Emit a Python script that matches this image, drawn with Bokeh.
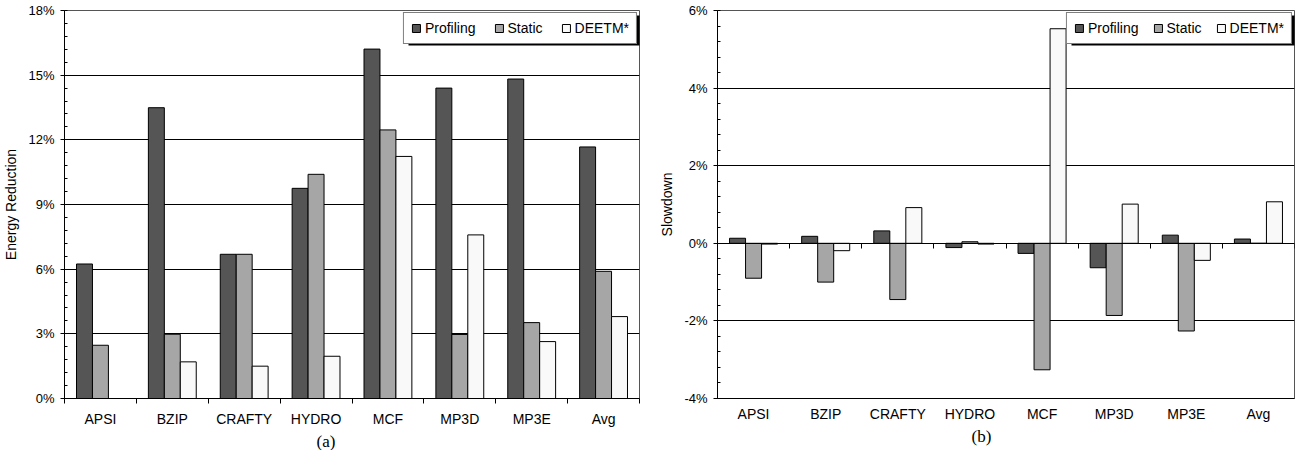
from bokeh.plotting import figure
from bokeh.layouts import row
from bokeh.models import (FixedTicker, PrintfTickFormatter, LinearAxis, Legend, LegendItem,
                          Title, Range1d, CustomJSTickFormatter, BoxAnnotation)
from bokeh.embed import file_html
from bokeh.resources import INLINE

categories = ["APSI", "BZIP", "CRAFTY", "HYDRO", "MCF", "MP3D", "MP3E", "Avg"]
series = ["Profiling", "Static", "DEETM*"]
colors = ["#555555", "#a6a6a6", "#f9f9f9"]

energy_profiling = [6.24, 13.49, 6.69, 9.75, 16.21, 14.40, 14.82, 11.67]
energy_static = [2.47, 2.98, 6.69, 10.40, 12.46, 2.97, 3.52, 5.90]
energy_deetm = [0.0, 1.70, 1.50, 1.96, 11.23, 7.59, 2.64, 3.80]

slow_profiling = [0.13, 0.18, 0.32, -0.11, -0.26, -0.63, 0.21, 0.11]
slow_static = [-0.90, -1.00, -1.45, 0.04, -3.26, -1.86, -2.26, 0.0]
slow_deetm = [-0.02, -0.19, 0.92, -0.02, 5.53, 1.01, -0.44, 1.07]

energy_ticks = [0, 3, 6, 9, 12, 15, 18]
energy_minor = [round(0.6 * k, 2) for k in range(31)]
slow_ticks = [-4, -2, 0, 2, 4, 6]
slow_minor = [round(-4 + 0.4 * k, 2) for k in range(26)]

FONT = "Liberation Sans"
BAR_W = 0.222
FH = 388
n = len(categories)
centers = [i + 0.5 for i in range(n)]
bounds = list(range(n + 1))


def make(values, ticks, minor, ylo, yhi, ylabel, bl, br, fw, spacing, leg_w, sub, sub_off,
         zero_ticks):
    p = figure(frame_width=fw, frame_height=FH, min_border_left=bl, min_border_right=br,
               min_border_top=10, min_border_bottom=50, x_range=Range1d(0, n),
               y_range=Range1d(ylo, yhi), output_backend="svg", toolbar_location=None,
               background_fill_color="white", border_fill_color="white")
    p.outline_line_color = "#555555"
    p.xgrid.visible = False
    p.ygrid.ticker = FixedTicker(ticks=ticks)
    p.ygrid.grid_line_color = "black"
    p.ygrid.grid_line_width = 1

    renderers = []
    for k, (vals, col) in enumerate(zip(values, colors)):
        xs = [c + (k - 1) * BAR_W for c in centers]
        r = p.vbar(x=xs, top=vals, bottom=0, width=BAR_W, fill_color=col,
                   line_color="black", line_width=1)
        renderers.append(r)

    # y axis
    ya = p.yaxis[0]
    ya.ticker = FixedTicker(ticks=ticks, minor_ticks=minor)
    ya.formatter = PrintfTickFormatter(format="%d%%")
    ya.axis_label = ylabel
    ya.axis_label_text_font = FONT
    ya.axis_label_text_font_size = "14px"
    ya.axis_label_text_font_style = "normal"
    ya.axis_label_text_color = "black"
    ya.axis_label_standoff = 6
    ya.major_label_text_font = FONT
    ya.major_label_text_font_size = "13px"
    ya.major_label_text_color = "black"
    ya.major_label_standoff = 6
    ya.axis_line_color = "black"
    ya.major_tick_line_color = "black"
    ya.major_tick_out = 4
    ya.major_tick_in = 0
    ya.minor_tick_line_color = "black"
    ya.minor_tick_in = 3
    ya.minor_tick_out = 0

    # x axis (category labels)
    xa = p.xaxis[0]
    xa.ticker = FixedTicker(ticks=centers, minor_ticks=bounds if not zero_ticks else [])
    xa.formatter = CustomJSTickFormatter(args=dict(cats=categories),
                                         code="return cats[Math.floor(tick)] || '';")
    xa.major_label_text_font = FONT
    xa.major_label_text_font_size = "14px"
    xa.major_label_text_color = "black"
    xa.major_label_standoff = 7
    xa.axis_line_color = "black"
    xa.major_tick_in = 0
    xa.major_tick_out = 0
    xa.minor_tick_line_color = "black"
    xa.minor_tick_in = 0
    xa.minor_tick_out = 5

    if zero_ticks:
        za = LinearAxis(fixed_location=0, ticker=FixedTicker(ticks=bounds),
                        formatter=CustomJSTickFormatter(code="return '';"),
                        axis_line_color="black", major_tick_in=5, major_tick_out=0,
                        major_tick_line_color="black", minor_tick_in=0, minor_tick_out=0,
                        major_label_text_font_size="1px", major_label_standoff=0)
        p.add_layout(za, "above")

    # legend drop shadow (3px, right and bottom)
    m, h, s = 2, 30, 3
    p.add_layout(BoxAnnotation(left=fw - m - leg_w + s, right=fw - m + s,
                               top=FH - m - s, bottom=FH - m - h - s,
                               left_units="screen", right_units="screen",
                               top_units="screen", bottom_units="screen",
                               fill_color="black", fill_alpha=1.0, line_color=None))

    items = [LegendItem(label=lbl, renderers=[r]) for lbl, r in zip(series, renderers)]
    lg = Legend(items=items, location="top_right", orientation="horizontal",
                padding=7, spacing=spacing, label_standoff=4, glyph_width=10, glyph_height=10,
                margin=m, border_line_color="black", border_line_width=1,
                label_text_font=FONT, label_text_font_size="14px",
                label_text_color="black", background_fill_color="white",
                background_fill_alpha=1.0)
    p.add_layout(lg)

    p.add_layout(Title(text=sub, align="left", offset=sub_off, standoff=0,
                       text_font="Liberation Serif", text_font_size="17px",
                       text_font_style="normal", text_color="black"), "below")
    return p


p1 = make([energy_profiling, energy_static, energy_deetm], energy_ticks, energy_minor, 0, 18,
          "Energy Reduction", 57, 10, 575, 18, 232, "(a)", 252, False)
p2 = make([slow_profiling, slow_static, slow_deetm], slow_ticks, slow_minor, -4, 6,
          "Slowdown", 68, 1, 577, 14, 224, "(b)", 254, True)

layout = row(p1, p2)
open("out.html", "w").write(file_html(layout, INLINE))
